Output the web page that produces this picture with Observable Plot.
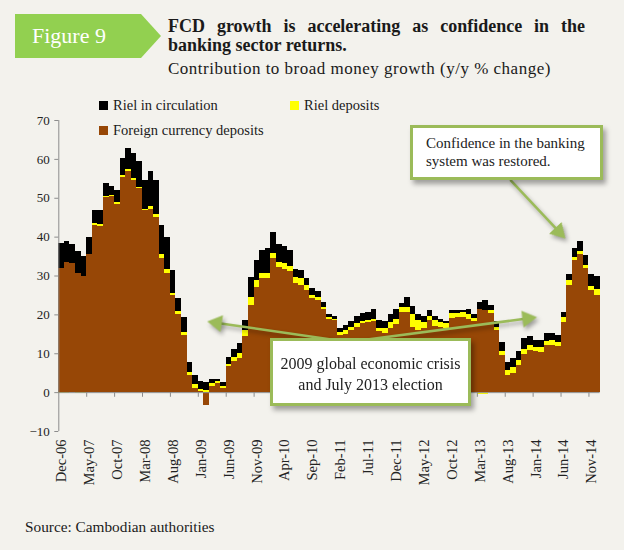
<!DOCTYPE html>
<html><head><meta charset="utf-8">
<script src="https://cdn.jsdelivr.net/npm/d3@7"></script>
<script src="https://cdn.jsdelivr.net/npm/@observablehq/plot@0.6"></script>
<style>
body{margin:0;background:#f3f2ed;}
#wrap{position:relative;width:624px;height:550px;background:#f3f2ed;font-family:"Liberation Serif","DejaVu Serif",serif;color:#1a1a1a;overflow:hidden}
#tag{position:absolute;left:15px;top:14px;width:146px;height:44px;background:#92d050;clip-path:polygon(0 0,126px 0,146px 50%,126px 100%,0 100%);color:#fff;font-size:22px;line-height:44px;padding-left:17px;box-sizing:border-box}
#title{position:absolute;left:168px;top:17px;width:417px;font-weight:bold;font-size:18px;line-height:19px}
#title .l1{text-align:justify;text-align-last:justify}
#sub{position:absolute;left:168px;top:59px;font-size:17px;letter-spacing:0.5px}
#chart{position:absolute;left:0;top:88px}
.lg{position:absolute;font-size:14.5px;line-height:16px;white-space:nowrap}
.lg i{display:inline-block;width:9px;height:9px;margin-right:5px;vertical-align:0px}
.callout{position:absolute;background:#fff;border:3px solid #9bbb59;box-shadow:3px 4px 5px rgba(0,0,0,0.35);color:#222;box-sizing:border-box}
#c1{left:410px;top:125px;width:193px;height:55px;padding:6px 0 0 13px;font-size:15px;line-height:18px}
#c2{left:270px;top:338px;width:201px;height:68px;text-align:center;padding-top:12px;font-size:16px;line-height:21px}
#source{position:absolute;left:25px;top:518px;font-size:15.3px}
</style></head>
<body><div id="wrap">
<div id="tag">Figure 9</div>
<div id="title"><div class="l1">FCD growth is accelerating as confidence in the</div><div>banking sector returns.</div></div>
<div id="sub">Contribution to broad money growth (y/y % change)</div>
<div id="chart"></div>
<div class="lg" style="left:99px;top:97px"><i style="background:#000"></i>Riel in circulation</div>
<div class="lg" style="left:290px;top:97px"><i style="background:#ffff00"></i>Riel deposits</div>
<div class="lg" style="left:99px;top:122px"><i style="background:#974706"></i>Foreign currency deposits</div>
<div class="callout" id="c1">Confidence in the banking<br>system was restored.</div>
<div class="callout" id="c2">2009 global economic crisis<br>and July 2013 election</div>
<div id="source">Source: Cambodian authorities</div>
</div>
<script>
// Tick labels every 5 months starting Dec-06 (monthly bars Dec-06 .. Dec-14)
const tickLabels = ["Dec-06","May-07","Oct-07","Mar-08","Aug-08","Jan-09","Jun-09","Nov-09","Apr-10","Sep-10","Feb-11","Jul-11","Dec-11","May-12","Oct-12","Mar-13","Aug-13","Jan-14","Jun-14","Nov-14"];

const fcd = [31.9,33.6,33.3,30.6,30.0,35.6,43.1,42.8,50.2,50.4,48.5,55.4,56.8,54.5,52.5,46.8,47.2,45.0,34.5,30.7,
 24.9,20.2,14.8,4.3,1.1,0.4,-3.2,1.7,2.3,1.1,6.6,8.0,8.8,14.5,22.5,27.1,29.3,29.4,34.5,32.3,
 31.7,31.1,28.0,27.6,26.3,24.1,23.8,21.3,18.8,18.5,14.6,15.0,15.9,16.8,17.7,18.1,18.3,15.6,15.2,16.4,
 17.5,20.7,20.7,16.8,15.9,16.4,18.6,17.1,16.7,16.6,19.1,19.3,19.4,18.9,18.2,21.3,21.2,20.3,15.9,9.5,
 4.3,4.9,7.0,9.7,10.8,10.6,10.3,12.2,12.1,11.9,18.1,27.6,34.0,35.6,31.9,26.3,25.0];
const rielDeposits = [-0.3,-0.3,0,-0.3,-0.3,0,0.3,0.4,0.3,0.2,0.5,0.4,0.5,0.5,0.3,0.3,0.8,0.7,1.0,0.9,
 0.6,0.7,0.7,0.9,0.9,0.5,0.6,0.7,0.5,0.6,0.7,1.0,1.2,1.5,2.0,1.7,1.3,1.3,1.3,1.1,
 1.4,1.3,1.5,1.7,1.3,0.9,0.7,0.7,0.4,0.4,0.9,0.9,0.9,1.1,0.7,0.5,0.4,0.8,1.4,1.7,
 1.4,1.1,1.1,3.4,2.6,1.7,1.0,1.5,1.4,1.1,1.2,1.0,1.2,1.3,0.9,-0.4,-0.4,0.7,0.9,1.1,
 1.5,1.6,1.3,1.3,1.2,1.1,1.2,1.0,1.3,1.0,1.2,1.3,0.8,0.6,0.8,0.9,1.4];
const rielCirculation = [6.4,5.2,4.9,5.8,4.9,4.4,3.5,3.7,3.2,2.5,3.1,4.5,5.6,6.6,6.6,7.4,8.8,8.8,7.6,8.4,
 5.9,3.2,3.9,2.5,2.5,1.9,2.0,1.0,0.5,0.9,1.7,2.0,2.7,2.6,5.0,5.2,6.0,6.3,5.3,4.8,
 4.4,4.2,2.3,2.1,1.7,1.7,1.6,1.3,0.9,0.8,0.9,1.3,1.5,1.8,1.9,2.1,2.6,2.1,1.8,2.1,
 2.6,1.0,2.7,1.9,1.5,1.5,1.6,1.1,0.8,0.6,0.9,0.7,0.5,1.2,1.0,2.0,2.4,1.4,1.5,2.2,
 2.0,2.4,2.3,2.8,2.4,1.8,1.9,2.0,1.7,1.7,1.4,1.6,2.2,2.6,2.5,3.1,3.4];

const seriesNames = ["Foreign currency deposits","Riel deposits","Riel in circulation"];
const seriesColors = ["#974706","#ffff00","#000000"];

const rows = [];
fcd.forEach((v, i) => {
  rows.push({i, i1: i + 1, series: seriesNames[0], value: v});
  rows.push({i, i1: i + 1, series: seriesNames[1], value: rielDeposits[i]});
  rows.push({i, i1: i + 1, series: seriesNames[2], value: rielCirculation[i]});
});

// Annotation arrows in data coordinates (bar index, % value)
const arrows = [
  {x1: 80.9, y1: 54.7, x2: 90.8, y2: 39.6},
  {x1: 51.9, y1: 13.0, x2: 26.6, y2: 18.3},
  {x1: 51.9, y1: 13.0, x2: 85.7, y2: 19.4}
];

const axisGray = "#8c8c8c";
const green = "#9bbb59";
const shadow = "drop-shadow(2px 3px 2px rgba(0,0,0,0.35))";

function build(extra = []) {
  return Plot.plot({
    width: 624, height: 412,
    marginLeft: 58.3, marginRight: 24.4, marginTop: 32, marginBottom: 69,
    style: {background: "transparent", fontFamily: '"Liberation Serif", serif', fontSize: "13px", color: "#222", overflow: "visible"},
    x: {domain: [0, 97], axis: null},
    y: {domain: [-10, 70], axis: null},
    color: {domain: seriesNames, range: seriesColors},
    marks: [
      Plot.rectY(rows, {x1: "i", x2: "i1", y: "value", fill: "series", shapeRendering: "crispEdges"}),
      Plot.ruleY([0], {stroke: axisGray}),
      Plot.ruleX([0], {stroke: axisGray}),
      Plot.ruleX(d3.range(5, 97, 5), {y1: 0, y2: -1.2, stroke: axisGray}),
      Plot.axisY(d3.range(-10, 71, 10), {tickSize: 4, tickPadding: 5, stroke: axisGray, fill: "#222", fontSize: 13, label: null}),
      Plot.axisX(tickLabels.map((d, k) => k * 5 + 0.5), {
        tickFormat: d => tickLabels[Math.round((d - 0.5) / 5)],
        tickRotate: -90, tickSize: 0, tickPadding: 8, fontSize: 14.5, fill: "#222", label: null
      }),
      ...extra
    ]
  });
}

const base = build();
const sx = base.scale("x"), sy = base.scale("y");
const lines = [], heads = [];
for (const a of arrows) {
  const p0 = [sx.apply(a.x1), sy.apply(a.y1)], p1 = [sx.apply(a.x2), sy.apply(a.y2)];
  const dx = p1[0] - p0[0], dy = p1[1] - p0[1], L = Math.hypot(dx, dy), ux = dx / L, uy = dy / L;
  const c = [p1[0] - ux * 9.8, p1[1] - uy * 9.8];
  const e = [p1[0] - ux * 12, p1[1] - uy * 12];
  lines.push({x1: a.x1, y1: a.y1, x2: sx.invert(e[0]), y2: sy.invert(e[1])});
  heads.push({x: sx.invert(c[0]), y: sy.invert(c[1]), angle: Math.atan2(ux, -uy) * 180 / Math.PI});
}

const chart = build([
  Plot.link(lines, {x1: "x1", y1: "y1", x2: "x2", y2: "y2", stroke: green, strokeWidth: 2.5, imageFilter: shadow}),
  Plot.dot(heads, {x: "x", y: "y", symbol: "triangle", r: 6.3, rotate: "angle", fill: green, stroke: "none", imageFilter: shadow})
]);
document.getElementById("chart").appendChild(chart);
</script>
</body></html>
